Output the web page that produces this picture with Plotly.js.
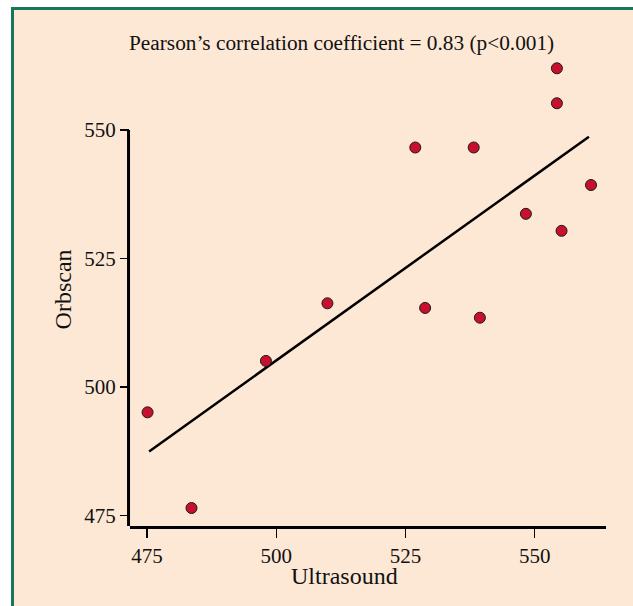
<!DOCTYPE html>
<html>
<head>
<meta charset="utf-8">
<script src="https://cdn.plot.ly/plotly-3.0.1.min.js"></script>
<style>
  html, body { margin: 0; padding: 0; background: #ffffff; width: 633px; height: 606px; overflow: hidden; }
  #frame { position: absolute; left: 11px; top: 7px; width: 700px; height: 700px;
           border-left: 3px solid #16775a; border-top: 3px solid #16775a; background: #fde8d5; }
  #chart { position: absolute; left: 0; top: 0; width: 633px; height: 606px; }
</style>
</head>
<body>
<div id="frame"></div>
<div id="chart"></div>
<script>
// Data
const ultrasound = [475.1, 483.6, 498.0, 509.9, 526.9, 528.8, 538.2, 539.4, 548.3, 554.3, 554.3, 555.2, 560.9];
const orbscan    = [495.1, 476.5, 505.1, 516.3, 546.6, 515.4, 546.6, 513.5, 533.7, 562.0, 555.2, 530.4, 539.3];
// Regression line end points
const fitX = [475.4, 560.5];
const fitY = [487.5, 548.7];
const tickValues = [475, 500, 525, 550];
const tickLabels = ['475', '500', '525', '550'];
const titleText = 'Pearson\u2019s correlation coefficient = 0.83 (p&lt;0.001)';
const xTitle = 'Ultrasound';
const yTitle = 'Orbscan';

const serif = 'Liberation Serif, Times New Roman, serif';
const yMin = 473, yMax = 564;
const xMin = 471.7, xMax = 563.8;

const traces = [
  { x: fitX, y: fitY, type: 'scatter', mode: 'lines',
    line: { color: '#000000', width: 2.5 }, hoverinfo: 'skip', showlegend: false },
  { x: ultrasound, y: orbscan, type: 'scatter', mode: 'markers',
    marker: { size: 11, color: '#c8102e', line: { color: '#1a1a1a', width: 1 } },
    showlegend: false }
];

const layout = {
  width: 633, height: 606,
  margin: { l: 129.5, r: 27, t: 57.8, b: 79.5, pad: 0 },
  paper_bgcolor: 'rgba(0,0,0,0)',
  plot_bgcolor: 'rgba(0,0,0,0)',
  showlegend: false,
  font: { family: serif, size: 21, color: '#111111' },
  xaxis: {
    range: [xMin, xMax], tickvals: tickValues, ticktext: tickLabels,
    showgrid: false, zeroline: false, showline: true, linewidth: 3, linecolor: '#000000',
    ticks: 'outside', ticklen: 9, tickwidth: 1.5, tickcolor: '#000000',
    tickfont: { family: serif, size: 21, color: '#111111' }
  },
  yaxis: {
    range: [yMin, yMax], tickvals: tickValues, ticktext: tickLabels,
    showgrid: false, zeroline: false, showline: false,
    ticks: 'outside', ticklen: 9, tickwidth: 1.5, tickcolor: '#000000',
    tickfont: { family: serif, size: 21, color: '#111111' }
  },
  shapes: [
    { type: 'line', xref: 'paper', yref: 'y', x0: -0.0031, x1: -0.0031, y0: yMin, y1: 550,
      line: { color: '#000000', width: 3 } }
  ],
  annotations: [
    { text: titleText, xref: 'paper', yref: 'paper', x: 0.4439, y: 1.0316,
      xanchor: 'center', yanchor: 'middle', showarrow: false,
      font: { family: serif, size: 21.3, color: '#111111' } },
    { text: xTitle, xref: 'paper', yref: 'paper', x: 0.450, y: -0.1077,
      xanchor: 'center', yanchor: 'middle', showarrow: false,
      font: { family: serif, size: 24, color: '#111111' } },
    { text: yTitle, xref: 'paper', yref: 'paper', x: -0.1417, y: 0.5046, textangle: -90,
      xanchor: 'center', yanchor: 'middle', showarrow: false,
      font: { family: serif, size: 24, color: '#111111' } }
  ]
};

Plotly.newPlot('chart', traces, layout, { displayModeBar: false, staticPlot: true });
</script>
</body>
</html>
